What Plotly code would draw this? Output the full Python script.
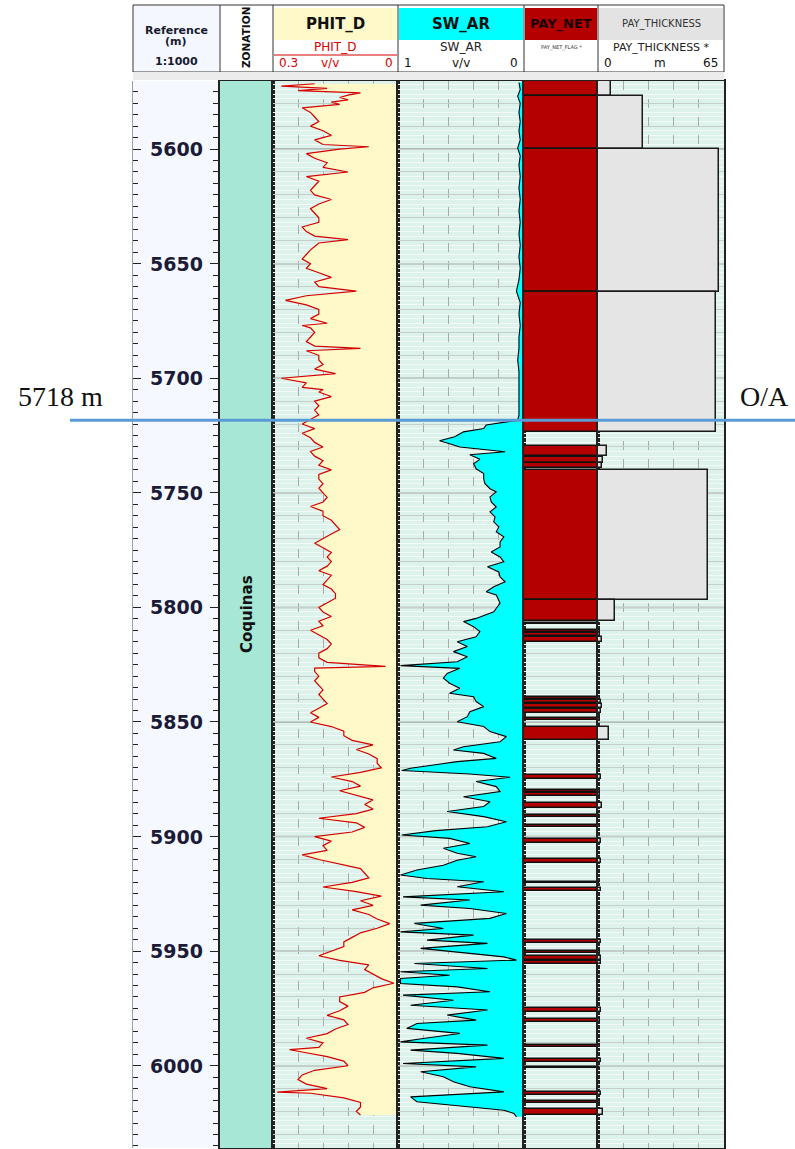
import plotly.graph_objects as go

W, H = 795, 1149
TOP_DEPTH, BASE_DEPTH = 5570.3, 6035.9

# ---------------- log data ----------------
phit_depth = [
    5571.5, 5572.5, 5573.5, 5574.5, 5575.5, 5576.5, 5577.5, 5578.5, 5579.5, 5580.5,
    5582, 5584, 5586, 5588, 5590, 5592, 5594, 5596, 5598, 5599,
    5600, 5602, 5604, 5606, 5608, 5610, 5612, 5614, 5616, 5618,
    5620, 5622, 5624, 5626, 5628, 5630, 5632, 5634, 5636, 5638,
    5639.5, 5641, 5642.5, 5644, 5646, 5648, 5650, 5652, 5654, 5656,
    5658, 5660, 5662, 5664, 5666, 5668, 5670, 5672, 5674, 5676,
    5677, 5678, 5680, 5682, 5684, 5686, 5687, 5688, 5690, 5692,
    5694, 5696, 5698, 5700, 5702, 5704, 5705, 5706, 5708, 5710,
    5712, 5714, 5716, 5718, 5720, 5722, 5724, 5726, 5728, 5730,
    5732, 5734, 5736, 5738, 5740, 5742, 5744, 5746, 5748, 5750,
    5752, 5754, 5756, 5758, 5760, 5762, 5764, 5766, 5768, 5770,
    5772, 5774, 5776, 5778, 5780, 5782, 5784, 5786, 5788, 5790,
    5792, 5794, 5796, 5798, 5800, 5802, 5804, 5806, 5808, 5810,
    5812, 5814, 5816, 5818, 5820, 5822, 5824, 5825.7, 5826.5, 5828,
    5830, 5832, 5834, 5836, 5838, 5840, 5842, 5844, 5846, 5848,
    5850, 5852, 5854, 5856, 5858, 5860, 5862, 5864, 5866, 5868,
    5870, 5872, 5874, 5876, 5878, 5880, 5882, 5884, 5886, 5888,
    5890, 5892, 5894, 5896, 5898, 5900, 5902, 5904, 5906, 5908,
    5910, 5912, 5914, 5916, 5918, 5920, 5922, 5924, 5926, 5928,
    5930, 5932, 5934, 5936, 5938, 5940, 5942, 5944, 5946, 5948,
    5950, 5952, 5954, 5956, 5958, 5960, 5962, 5964, 5966, 5968,
    5970, 5972, 5974, 5976, 5978, 5980, 5982, 5984, 5986, 5988,
    5990, 5992, 5993, 5994, 5996, 5998, 6000, 6002, 6004, 6006,
    6008, 6010, 6011.5, 6012, 6014, 6016, 6018, 6020, 6021.5,
]
phit_d = [
    0.20, 0.28, 0.17, 0.24, 0.09, 0.12, 0.14, 0.12, 0.16, 0.14,
    0.23, 0.21, 0.20, 0.19, 0.21, 0.18, 0.16, 0.20, 0.18, 0.07,
    0.14, 0.22, 0.20, 0.17, 0.18, 0.12, 0.22, 0.19, 0.20, 0.21,
    0.20, 0.16, 0.19, 0.21, 0.20, 0.19, 0.19, 0.23, 0.22, 0.20,
    0.12, 0.19, 0.20, 0.21, 0.22, 0.23, 0.21, 0.22, 0.19, 0.16,
    0.20, 0.19, 0.10, 0.22, 0.27, 0.22, 0.19, 0.19, 0.21, 0.17,
    0.23, 0.21, 0.20, 0.21, 0.22, 0.20, 0.09, 0.22, 0.19, 0.19,
    0.18, 0.20, 0.15, 0.28, 0.22, 0.23, 0.18, 0.19, 0.16, 0.20,
    0.19, 0.20, 0.19, 0.21, 0.23, 0.20, 0.23, 0.21, 0.20, 0.18,
    0.21, 0.20, 0.18, 0.19, 0.16, 0.19, 0.19, 0.18, 0.19, 0.18,
    0.17, 0.18, 0.21, 0.18, 0.18, 0.16, 0.15, 0.14, 0.16, 0.18,
    0.20, 0.18, 0.16, 0.17, 0.16, 0.17, 0.19, 0.16, 0.17, 0.18,
    0.16, 0.15, 0.15, 0.17, 0.19, 0.18, 0.16, 0.19, 0.18, 0.21,
    0.19, 0.17, 0.16, 0.17, 0.19, 0.19, 0.17, 0.03, 0.20, 0.20,
    0.19, 0.20, 0.19, 0.18, 0.19, 0.18, 0.17, 0.19, 0.21, 0.19,
    0.21, 0.16, 0.13, 0.13, 0.11, 0.06, 0.10, 0.07, 0.05, 0.05,
    0.04, 0.09, 0.16, 0.11, 0.09, 0.14, 0.10, 0.06, 0.08, 0.06,
    0.10, 0.19, 0.10, 0.08, 0.11, 0.20, 0.16, 0.18, 0.17, 0.23,
    0.19, 0.14, 0.09, 0.08, 0.07, 0.11, 0.18, 0.10, 0.04, 0.09,
    0.06, 0.11, 0.07, 0.05, 0.02, 0.05, 0.09, 0.11, 0.13, 0.13,
    0.16, 0.19, 0.14, 0.07, 0.08, 0.06, 0.04, 0.01, 0.06, 0.08,
    0.14, 0.14, 0.12, 0.14, 0.17, 0.13, 0.12, 0.15, 0.17, 0.22,
    0.18, 0.19, 0.26, 0.23, 0.17, 0.13, 0.12, 0.20, 0.23, 0.24,
    0.22, 0.17, 0.29, 0.21, 0.13, 0.09, 0.09, 0.10, 0.09,
]

sw_depth = [
    5571, 5574, 5577, 5580, 5584, 5588, 5592, 5596, 5599.5, 5603,
    5607, 5612, 5617, 5622, 5627, 5632, 5637, 5642, 5647, 5652,
    5657, 5662, 5667, 5672, 5677, 5682, 5687, 5692, 5697, 5702,
    5707, 5712, 5716, 5718.3, 5719.4, 5720.4, 5721.9, 5723.4, 5725.5, 5727.3,
    5728.6, 5730, 5731.2, 5732.1, 5733.4, 5735.4, 5737.3, 5739.5, 5741.6, 5743.8,
    5746, 5748.2, 5749.6, 5751.8, 5754, 5756.2, 5758.3, 5760.5, 5762.7, 5764.9,
    5767, 5769.2, 5771.4, 5773.6, 5775.8, 5778, 5780.1, 5782.3, 5784.5, 5786.7,
    5788.8, 5791, 5793.2, 5794.6, 5798.2, 5801.9, 5804.8, 5806.2, 5808.4, 5810.6,
    5812.8, 5815, 5817.1, 5819.3, 5821.5, 5823.7, 5825.4, 5826.6, 5828.8, 5830.9,
    5833.1, 5835.3, 5837.5, 5839, 5841.1, 5843.3, 5845.5, 5847.7, 5849.9, 5852,
    5854.2, 5856.4, 5858.6, 5860.8, 5862.2, 5863.7, 5865.9, 5867.3, 5868.8, 5870.2,
    5871.2, 5872.7, 5874.1, 5876, 5878.2, 5880.4, 5882.6, 5884.8, 5886.9, 5889.1,
    5891.3, 5893.5, 5895.7, 5897.4, 5899.3, 5900.8, 5903, 5905.1, 5907.3, 5908.8,
    5910.3, 5912.5, 5914.6, 5916.8, 5918.3, 5919.7, 5921.9, 5924.1, 5926.3, 5927.7,
    5929.9, 5931.4, 5933.6, 5935.7, 5937.9, 5940.1, 5941.6, 5943, 5945.2, 5946.6,
    5948.8, 5951, 5952.5, 5953.9, 5955.4, 5957.6, 5959, 5960.5, 5961.9, 5964.1,
    5965.6, 5967.7, 5969.2, 5971.4, 5973.6, 5975.7, 5977.9, 5980.1, 5981.6, 5983.7,
    5985.9, 5988.1, 5989.6, 5991, 5993.2, 5994.6, 5996.8, 5999, 6000.5, 6002.6,
    6004.8, 6007, 6009.2, 6011.4, 6013.6, 6015.7, 6017.5, 6019.4, 6020.8, 6022.3,
]
sw_ar = [
    0.04, 0.03, 0.05, 0.03, 0.04, 0.03, 0.04, 0.03, 0.05, 0.03,
    0.04, 0.03, 0.04, 0.03, 0.04, 0.03, 0.04, 0.03, 0.04, 0.03,
    0.04, 0.06, 0.03, 0.04, 0.03, 0.04, 0.04, 0.05, 0.04, 0.04,
    0.04, 0.04, 0.04, 0.05, 0.17, 0.30, 0.32, 0.48, 0.55, 0.67,
    0.59, 0.51, 0.30, 0.15, 0.43, 0.35, 0.40, 0.38, 0.32, 0.32,
    0.31, 0.27, 0.22, 0.27, 0.26, 0.22, 0.27, 0.23, 0.24, 0.20,
    0.22, 0.16, 0.19, 0.19, 0.26, 0.19, 0.16, 0.29, 0.20, 0.19,
    0.15, 0.24, 0.30, 0.22, 0.19, 0.24, 0.38, 0.48, 0.40, 0.35,
    0.38, 0.53, 0.45, 0.56, 0.45, 0.53, 0.98, 0.51, 0.61, 0.64,
    0.59, 0.51, 0.59, 0.40, 0.38, 0.32, 0.43, 0.45, 0.53, 0.32,
    0.27, 0.14, 0.19, 0.48, 0.56, 0.32, 0.22, 0.53, 0.72, 0.90,
    0.97, 0.43, 0.11, 0.38, 0.22, 0.19, 0.48, 0.27, 0.32, 0.61,
    0.32, 0.14, 0.29, 0.70, 0.97, 0.59, 0.43, 0.64, 0.53, 0.38,
    0.53, 0.64, 0.85, 0.98, 0.77, 0.32, 0.53, 0.16, 0.96, 0.43,
    0.82, 0.43, 0.14, 0.27, 0.87, 0.64, 0.98, 0.40, 0.77, 0.29,
    0.82, 0.40, 0.16, 0.06, 0.87, 0.29, 0.98, 0.59, 0.98, 0.98,
    0.53, 0.27, 0.96, 0.56, 0.90, 0.29, 0.61, 0.38, 0.85, 0.93,
    0.51, 0.80, 0.98, 0.29, 0.90, 0.53, 0.16, 0.96, 0.38, 0.82,
    0.64, 0.56, 0.43, 0.16, 0.90, 0.85, 0.53, 0.16, 0.08, 0.06,
]

# net pay intervals (top / base, m) with flag and interval thickness
pay_top = [
    5570.5, 5577.0, 5600.0, 5662.4, 5729.5, 5734.5, 5737.1, 5740.1, 5796.8, 5806.6,
    5809.9, 5811.2, 5812.8, 5839.0, 5840.4, 5842.2, 5844.4, 5848.4, 5852.1, 5873.2,
    5879.7, 5881.1, 5885.5, 5890.8, 5895.0, 5901.2, 5909.8, 5919.7, 5922.3, 5945.2,
    5950.0, 5952.1, 5954.3, 5975.0, 5979.6, 5991.0, 5997.2, 6000.4, 6011.4, 6015.3,
    6019.0,
]
pay_base = [
    5577.0, 5600.0, 5662.4, 5723.5, 5734.0, 5737.1, 5739.3, 5796.8, 5805.8, 5807.1,
    5810.9, 5812.4, 5815.0, 5840.0, 5841.9, 5844.1, 5846.2, 5849.2, 5857.9, 5875.0,
    5880.7, 5882.3, 5887.7, 5891.3, 5896.0, 5902.9, 5911.4, 5920.4, 5923.6, 5946.6,
    5951.0, 5953.9, 5955.6, 5976.4, 5980.8, 5991.8, 5998.5, 6001.1, 6012.8, 6016.4,
    6021.5,
]
pay_net_flag = [
    1, 1, 1, 1, 1, 1, 1, 1, 1, 1,
    1, 1, 1, 1, 1, 1, 1, 1, 1, 1,
    1, 1, 1, 1, 1, 1, 1, 1, 1, 1,
    1, 1, 1, 1, 1, 1, 1, 1, 1, 1,
    1,
]
pay_thickness = [
    6.5, 23.0, 62.4, 61.1, 4.5, 2.6, 2.2, 56.7, 9.0, 0.5,
    1.0, 1.2, 2.2, 1.0, 1.5, 1.9, 1.8, 0.8, 5.8, 1.8,
    1.0, 1.2, 2.2, 0.5, 1.0, 1.7, 1.6, 0.7, 1.3, 1.4,
    1.0, 1.8, 1.3, 1.4, 1.2, 0.8, 1.3, 0.7, 1.4, 1.1,
    2.5,
]

zone_names = ["Coquinas"]
zone_top = [5570.3]
zone_base = [6035.9]

depth_labels = [5600, 5650, 5700, 5750, 5800, 5850, 5900, 5950, 6000]
contact_depth = 5718.3
contact_name = "O/A"

# ---------------- layout geometry (pixels) ----------------
track_px = [(133, 220), (220, 273), (273, 398), (398, 524), (524, 598), (598, 724)]
PLOT_TOP, PLOT_BOT = 81, 1148


def px(x):
    return x / W


def py(y):
    return 1 - y / H


ydom = [py(PLOT_BOT), py(PLOT_TOP)]

fig = go.Figure()

pay_mid = [(t + b) / 2 for t, b in zip(pay_top, pay_base)]
pay_len = [b - t for t, b in zip(pay_top, pay_base)]

# zonation column
fig.add_trace(go.Bar(
    orientation="h", x=[1 for _ in zone_names],
    y=[(t + b) / 2 for t, b in zip(zone_top, zone_base)],
    width=[b - t for t, b in zip(zone_top, zone_base)],
    base=0, xaxis="x2", yaxis="y2",
    marker=dict(color="#A7E7D6", line=dict(width=0)), hoverinfo="skip",
))

# PHIT_D with fill to zero porosity
fig.add_trace(go.Scatter(
    x=phit_d, y=phit_depth, xaxis="x3", yaxis="y3", mode="lines",
    line=dict(color="#D40000", width=1.2), fill="tozerox", fillcolor="#FFF8C9",
))

# SW_AR with fill to zero saturation
fig.add_trace(go.Scatter(
    x=sw_ar, y=sw_depth, xaxis="x4", yaxis="y4", mode="lines",
    line=dict(color="#000000", width=1.1), fill="tozerox", fillcolor="#00FFFF",
))

# PAY_NET flag
fig.add_trace(go.Bar(
    orientation="h", x=pay_net_flag, y=pay_mid, width=pay_len, base=0,
    xaxis="x5", yaxis="y5",
    marker=dict(color="#B50000", line=dict(color="#111111", width=1.5)),
))

# PAY_THICKNESS
fig.add_trace(go.Bar(
    orientation="h", x=pay_thickness, y=pay_mid, width=pay_len, base=0,
    xaxis="x6", yaxis="y6",
    marker=dict(color="#E5E5E5", line=dict(color="#1A1A1A", width=1.5)),
))

layout = dict(
    width=W, height=H, margin=dict(l=0, r=0, t=0, b=0),
    paper_bgcolor="white", plot_bgcolor="#DEF2EC", showlegend=False,
    bargap=0,
)

x_ranges = [[0, 1], [0, 1], [0.3, 0], [1, 0], [0, 1], [0, 65]]
x_dticks = [None, None, 0.06, 0.2, None, 13]

for i, (x0, x1) in enumerate(track_px, start=1):
    xa = dict(domain=[px(x0), px(x1)], anchor=f"y{i}", range=x_ranges[i - 1],
              showticklabels=False, ticks="", zeroline=False, fixedrange=True)
    ya = dict(domain=ydom, anchor=f"x{i}", range=[BASE_DEPTH, TOP_DEPTH],
              showticklabels=False, zeroline=False, fixedrange=True)
    if i > 1:
        ya["matches"] = "y"
    if x_dticks[i - 1] is not None:
        xa.update(showgrid=True, tick0=0, dtick=x_dticks[i - 1], griddash="dash",
                  gridcolor="#A8ABAA", gridwidth=1)
    else:
        xa.update(showgrid=False)
    if i == 1:
        xa.update(showline=False)
        ya.update(showgrid=False, showline=True, linecolor="#9AA0A8", linewidth=1,
                  ticks="inside", ticklen=8, tickwidth=1.4, tickcolor="#222222",
                  tick0=0, dtick=50,
                  minor=dict(ticks="inside", ticklen=5, tickwidth=1.2,
                             tickcolor="#222222", dtick=5, tick0=0, showgrid=False))
    elif i == 2:
        xa.update(showline=True, mirror=True, linecolor="#222222", linewidth=1.5)
        ya.update(showgrid=False, showline=True, mirror=True, linecolor="#222222",
                  linewidth=1.5, ticks="outside", ticklen=8, tickwidth=1.4,
                  tickcolor="#222222", tick0=0, dtick=50,
                  minor=dict(ticks="outside", ticklen=5, tickwidth=1.2,
                             tickcolor="#222222", dtick=5, tick0=0, showgrid=False))
    else:
        xa.update(showline=True, mirror=True, linecolor="#222222", linewidth=1.5)
        ya.update(showgrid=True, tick0=0, dtick=10, gridcolor="#C4CECA", gridwidth=1,
                  ticks="", showline=True, mirror=True, linecolor="#222222",
                  linewidth=1.5,
                  minor=dict(showgrid=True, dtick=2, tick0=0, gridcolor="#F1FAF7",
                             gridwidth=1))
    layout["xaxis" if i == 1 else f"xaxis{i}"] = xa
    layout["yaxis" if i == 1 else f"yaxis{i}"] = ya

shapes = []
annotations = []

# depth column background
shapes.append(dict(type="rect", xref="x", yref="y", x0=0, x1=1, y0=BASE_DEPTH,
                   y1=TOP_DEPTH, fillcolor="#F5F8FE", line=dict(width=0),
                   layer="below"))

# 50 m reference lines in the log tracks
for i in range(3, 7):
    for d in depth_labels:
        shapes.append(dict(type="line", xref=f"x{i}", yref=f"y{i}",
                           x0=x_ranges[i - 1][0], x1=x_ranges[i - 1][1],
                           y0=d, y1=d, line=dict(color="#A3A7A5", width=1.5),
                           layer="below"))

# depth labels
for d in depth_labels:
    annotations.append(dict(xref="x", yref="y", x=0.5, y=d, text=f"<b>{d}</b>",
                            showarrow=False, xanchor="center",
                            font=dict(family="DejaVu Sans", size=19, color="#1B1B38")))

# zone names
for name, t, b in zip(zone_names, zone_top, zone_base):
    annotations.append(dict(xref="x2", yref="y2", x=0.5, y=(t + b) / 2,
                            text=f"<b>{name}</b>", textangle=-90, showarrow=False,
                            font=dict(family="DejaVu Sans", size=15, color="#111111")))

# ---------------- header ----------------
HX0, HX1 = track_px[0][0], track_px[-1][1]


def rect(x0, y0, x1, y1, fill, line_color=None, width=0):
    shapes.append(dict(type="rect", xref="paper", yref="paper", x0=px(x0), x1=px(x1),
                       y0=py(y1), y1=py(y0), fillcolor=fill,
                       line=dict(color=line_color or fill, width=width)))


def hline(x0, x1, y, color, width=1):
    shapes.append(dict(type="line", xref="paper", yref="paper", x0=px(x0), x1=px(x1),
                       y0=py(y), y1=py(y), line=dict(color=color, width=width)))


def vline(x, y0, y1, color, width=1):
    shapes.append(dict(type="line", xref="paper", yref="paper", x0=px(x), x1=px(x),
                       y0=py(y0), y1=py(y1), line=dict(color=color, width=width)))


def text(x, y, s, size, color="#111111", anchor="center", angle=0, family="DejaVu Sans"):
    annotations.append(dict(xref="paper", yref="paper", x=px(x), y=py(y), text=s,
                            showarrow=False, xanchor=anchor, yanchor="middle",
                            textangle=angle,
                            font=dict(family=family, size=size, color=color)))


rect(HX0, 5, HX1, 72, "white", "#333333", 1)
rect(HX0 + 1, 6, 219, 71, "#F4F8FE")
rect(274, 8, 397, 40, "#FFF8C9")
rect(399, 8, 523, 40, "#00FFFF")
rect(525, 8, 597, 40, "#B50000")
rect(599, 8, 723, 40, "#E3E3E3")
for x, _ in track_px[1:]:
    vline(x, 5, 72, "#333333", 1)
hline(274, 397, 55, "#D40000", 1.2)
rect(HX0, 72, HX1, 80, "#ECECEC")

text(176, 31, "<b>Reference</b>", 11, "#1A1A2E")
text(176, 42, "<b>(m)</b>", 11, "#1A1A2E")
text(176, 61, "<b>1:1000</b>", 11, "#1A1A2E")
text(246, 38, "<b>ZONATION</b>", 10.5, "#111111", angle=-90)

text(335, 24, "<b>PHIT_D</b>", 15)
text(461, 24, "<b>SW_AR</b>", 15)
text(561, 24, "<b>PAY_NET</b>", 13, "#1A0000")
text(661, 24, "PAY_THICKNESS", 10, "#333333")

text(335, 47, "PHIT_D", 12, "#D40000")
text(461, 47, "SW_AR", 12, "#222222")
text(561, 47, "PAY_NET_FLAG *", 5, "#333333")
text(661, 47, "PAY_THICKNESS *", 11, "#222222")

text(277, 63, "0.3", 12, "#D40000", anchor="left")
text(330, 63, "v/v", 12, "#D40000")
text(395, 63, "0", 12, "#D40000", anchor="right")
text(402, 63, "1", 12, "#111111", anchor="left")
text(461, 63, "v/v", 12, "#111111")
text(520, 63, "0", 12, "#111111", anchor="right")
text(602, 63, "0", 12, "#111111", anchor="left")
text(660, 63, "m", 12, "#111111")
text(720, 63, "65", 12, "#111111", anchor="right")

# ---------------- fluid contact ----------------
shapes.append(dict(type="line", xref="paper", yref="y3", x0=px(70), x1=1,
                   y0=contact_depth, y1=contact_depth,
                   line=dict(color="#5B9BD5", width=3)))
annotations.append(dict(xref="paper", yref="y3", x=px(60), y=contact_depth,
                        text=f"{contact_depth:.0f} m", showarrow=False,
                        xanchor="center", yanchor="bottom", yshift=6,
                        font=dict(family="Liberation Serif", size=28, color="#111111")))
annotations.append(dict(xref="paper", yref="y3", x=px(764), y=contact_depth,
                        text=contact_name, showarrow=False,
                        xanchor="center", yanchor="bottom", yshift=6,
                        font=dict(family="Liberation Serif", size=28, color="#111111")))

layout["shapes"] = shapes
layout["annotations"] = annotations
fig.update_layout(**layout)

fig.write_html("out.html")
